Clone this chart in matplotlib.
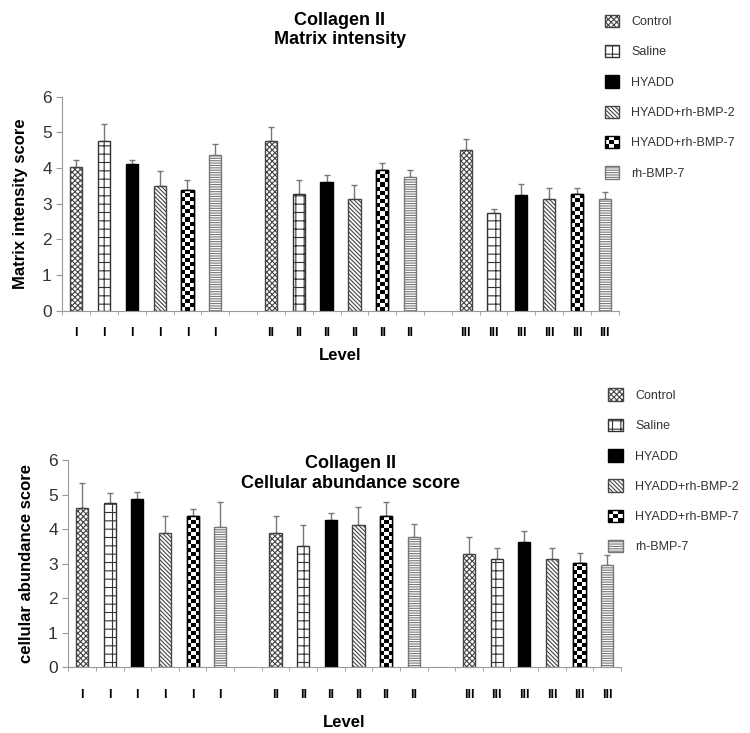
import numpy as np
import matplotlib
matplotlib.use("Agg")
import matplotlib.pyplot as plt
from matplotlib.legend_handler import HandlerBase
from matplotlib.patches import Patch, Rectangle

treatments = ["Control", "Saline", "HYADD", "HYADD+rh-BMP-2",
              "HYADD+rh-BMP-7", "rh-BMP-7"]
levels = ["I", "II", "III"]

# rows = treatment, columns = level I, II, III
matrix_mean = np.array([
    [4.02, 4.76, 4.51],
    [4.75, 3.26, 2.75],
    [4.11, 3.61, 3.24],
    [3.50, 3.13, 3.13],
    [3.40, 3.94, 3.26],
    [4.38, 3.76, 3.13],
])
matrix_err = np.array([
    [0.20, 0.39, 0.30],
    [0.50, 0.40, 0.10],
    [0.11, 0.21, 0.31],
    [0.42, 0.39, 0.30],
    [0.28, 0.19, 0.19],
    [0.30, 0.20, 0.19],
])
cell_mean = np.array([
    [4.63, 3.90, 3.27],
    [4.76, 3.51, 3.14],
    [4.87, 4.26, 3.62],
    [3.88, 4.13, 3.14],
    [4.38, 4.38, 3.02],
    [4.07, 3.76, 2.95],
])
cell_err = np.array([
    [0.70, 0.48, 0.49],
    [0.30, 0.60, 0.31],
    [0.22, 0.21, 0.33],
    [0.50, 0.51, 0.31],
    [0.21, 0.41, 0.29],
    [0.71, 0.40, 0.31],
])

# bar styling, one per treatment
HATCH = ["xxxxxx", "++", None, "\\" * 8, None, "-------"]
FACE = ["white", "white", "black", "white", "white", "white"]
EDGE = ["#444444", "#333333", "black", "#444444", "black", "#777777"]
CHECKER = "HYADD+rh-BMP-7"
BAR_W = 0.44

plt.rcParams["font.family"] = ["Liberation Sans", "DejaVu Sans"]
plt.rcParams["hatch.linewidth"] = 0.8


class CheckerHandler(HandlerBase):
    """Legend key drawn as a small black/white checkerboard."""

    def create_artists(self, legend, orig_handle, xdescent, ydescent,
                       width, height, fontsize, trans):
        arts = []
        n = 3
        for i in range(n):
            for j in range(n):
                fc = "black" if (i + j) % 2 == 0 else "white"
                arts.append(Rectangle((-xdescent + i * width / n, -ydescent + j * height / n),
                                      width / n, height / n, facecolor=fc,
                                      edgecolor="none", transform=trans))
        arts.append(Rectangle((-xdescent, -ydescent), width, height, facecolor="none",
                              edgecolor="black", lw=1, transform=trans))
        return arts


def fill_checker(ax, bars, cell_h):
    for bar in bars:
        x0, w, h = bar.get_x(), bar.get_width(), bar.get_height()
        rows = max(1, int(round(h / cell_h)))
        img = np.indices((rows, 3)).sum(axis=0) % 2
        im = ax.imshow(img, cmap="gray", extent=(x0, x0 + w, 0, h), aspect="auto",
                       interpolation="nearest", zorder=2.1)
        im.set_clip_path(bar)


def draw_panel(ax, means, errs, ylabel, tick_pad, label_pad):
    n = len(treatments)
    centers = []
    for i, name in enumerate(treatments):
        x = np.arange(len(levels)) * (n + 1) + i
        centers.extend(zip(x, levels))
        bars = ax.bar(x, means[i], width=BAR_W, color=FACE[i], edgecolor=EDGE[i],
                      hatch=HATCH[i], linewidth=1, zorder=2)
        if name == CHECKER:
            fill_checker(ax, bars, 0.115)
            ax.bar(x, means[i], width=BAR_W, fill=False, edgecolor=EDGE[i],
                   linewidth=1, zorder=2.2)
        ax.errorbar(x, means[i], yerr=[np.zeros(len(x)), errs[i]], fmt="none",
                    ecolor="#777777", elinewidth=1, capsize=2, capthick=1, zorder=1)

    centers.sort()
    ax.set_xticks([c[0] for c in centers])
    ax.set_xticklabels([c[1] for c in centers], fontsize=9, fontweight="bold")
    ax.set_xticks(np.arange(-0.5, len(levels) * (n + 1), 1), minor=True)
    ax.tick_params(axis="x", which="major", length=0, pad=tick_pad)
    ax.tick_params(axis="x", which="minor", length=3, color="#999999", direction="out")
    ax.tick_params(axis="y", length=4, color="#999999", labelsize=12.5, labelcolor="#333333")
    ax.set_xlim(-0.5, len(levels) * (n + 1) - 1.5)
    ax.set_ylim(0, 6)
    ax.set_yticks(range(7))
    for side in ("top", "right"):
        ax.spines[side].set_visible(False)
    for side in ("left", "bottom"):
        ax.spines[side].set_color("#999999")
    ax.set_xlabel("Level", fontsize=12, fontweight="bold", labelpad=label_pad)
    ax.set_ylabel(ylabel, fontsize=12, fontweight="bold", labelpad=10)


def add_legend(fig, anchor):
    handles = []
    hmap = {}
    for i, name in enumerate(treatments):
        h = Patch(facecolor=FACE[i], edgecolor=EDGE[i], hatch=HATCH[i])
        if name == CHECKER:
            hmap[h] = CheckerHandler()
        handles.append(h)
    leg = fig.legend(handles, treatments, loc="upper left", bbox_to_anchor=anchor,
                     frameon=False, fontsize=9, handlelength=1.15, handleheight=1.15,
                     handletextpad=1.0, labelspacing=1.35, borderpad=0,
                     borderaxespad=0, handler_map=hmap)
    for t in leg.get_texts():
        t.set_color("#333333")


fig = plt.figure(figsize=(7.5, 7.33), dpi=100)

ax1 = fig.add_axes([0.083, 0.576, 0.742, 0.292])
draw_panel(ax1, matrix_mean, matrix_err, "Matrix intensity score", 12, 6)
fig.text(0.453, 0.984, "Collagen II\nMatrix intensity", ha="center", va="top",
         fontsize=13, fontweight="bold", linespacing=1.2)
add_legend(fig, (0.806, 0.980))

ax2 = fig.add_axes([0.091, 0.090, 0.737, 0.282])
draw_panel(ax2, cell_mean, cell_err, "cellular abundance score", 16, 10)
fig.text(0.467, 0.379, "Collagen II\nCellular abundance score", ha="center", va="top",
         fontsize=13, fontweight="bold", linespacing=1.2)
add_legend(fig, (0.811, 0.470))

fig.savefig("out.png", dpi=100)
